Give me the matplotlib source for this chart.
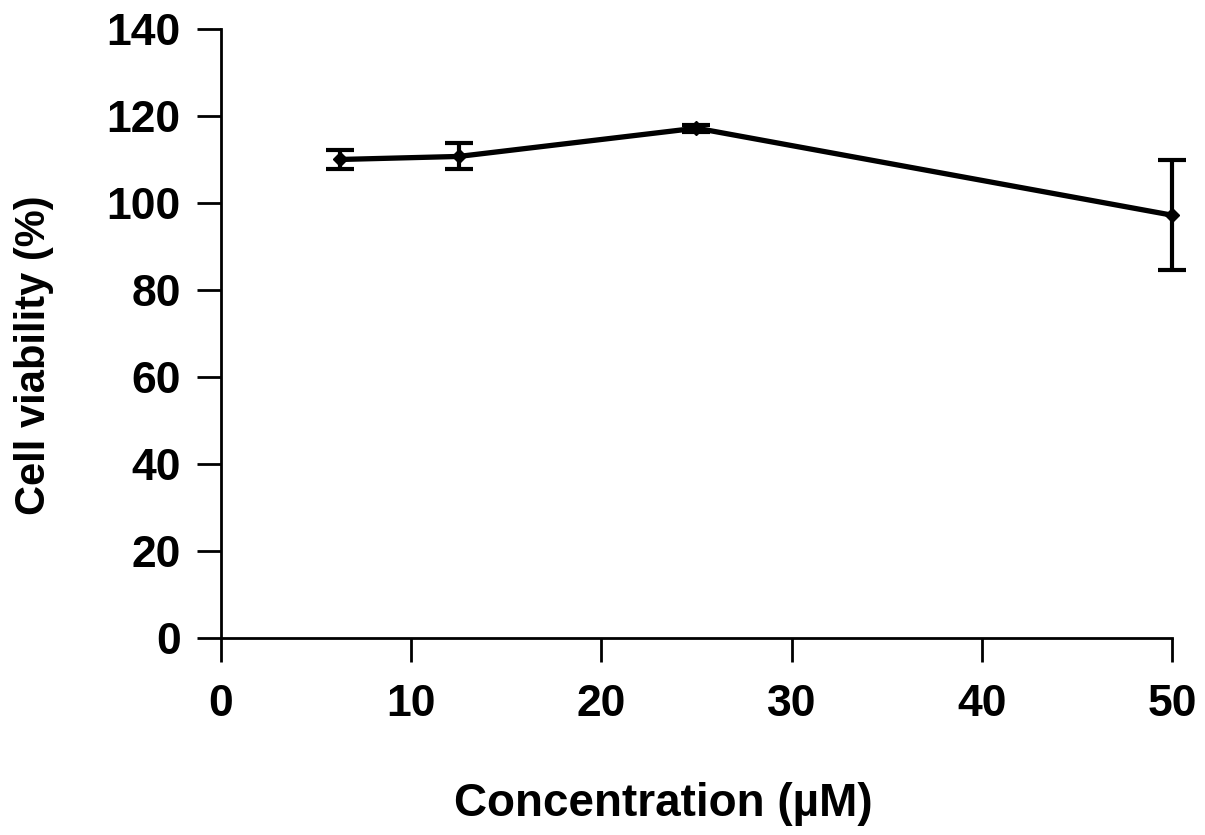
import numpy as np
import matplotlib.pyplot as plt

# concentration (uM) and cell viability (%)
conc = [6.25, 12.5, 25, 50]
viability = [110.0, 110.7, 117.2, 97.2]
err = [2.2, 3.0, 0.8, 12.6]

plt.rcParams['font.family'] = ['Liberation Sans', 'DejaVu Sans']
plt.rcParams['font.weight'] = 'bold'

fig = plt.figure(figsize=(12.05, 8.35), dpi=100)
ax = fig.add_axes([0.1834, 0.2359, 0.7892, 0.7294])

eb = ax.errorbar(conc, viability, yerr=err, color='black', lw=3.8, marker='D',
                 markersize=7, capsize=10, capthick=3, elinewidth=3)
data_line, caps, bars = eb.lines
data_line.set_clip_on(False)
for art in list(caps) + list(bars):
    art.set_clip_on(False)

ax.set_xlim(0, 50)
ax.set_ylim(0, 140)
ax.set_xticks([0, 10, 20, 30, 40, 50])
ax.set_yticks(np.arange(0, 141, 20))

ax.spines['top'].set_visible(False)
ax.spines['right'].set_visible(False)
ax.spines['left'].set_linewidth(2)
ax.spines['bottom'].set_linewidth(2)
ax.tick_params(axis='both', direction='out', length=17, width=2,
               labelsize=32, pad=12)
ax.tick_params(axis='x', pad=16)
for lbl in ax.get_xticklabels() + ax.get_yticklabels():
    lbl.set_fontweight('bold')

ax.set_xlabel('Concentration (µM)', fontsize=33, fontweight='bold')
ax.set_ylabel('Cell viability (%)', fontsize=30, fontweight='bold')
ax.xaxis.set_label_coords(0.465, -0.236)
ax.yaxis.set_label_coords(-0.176, 0.465)

fig.savefig('out.png', dpi=100)
